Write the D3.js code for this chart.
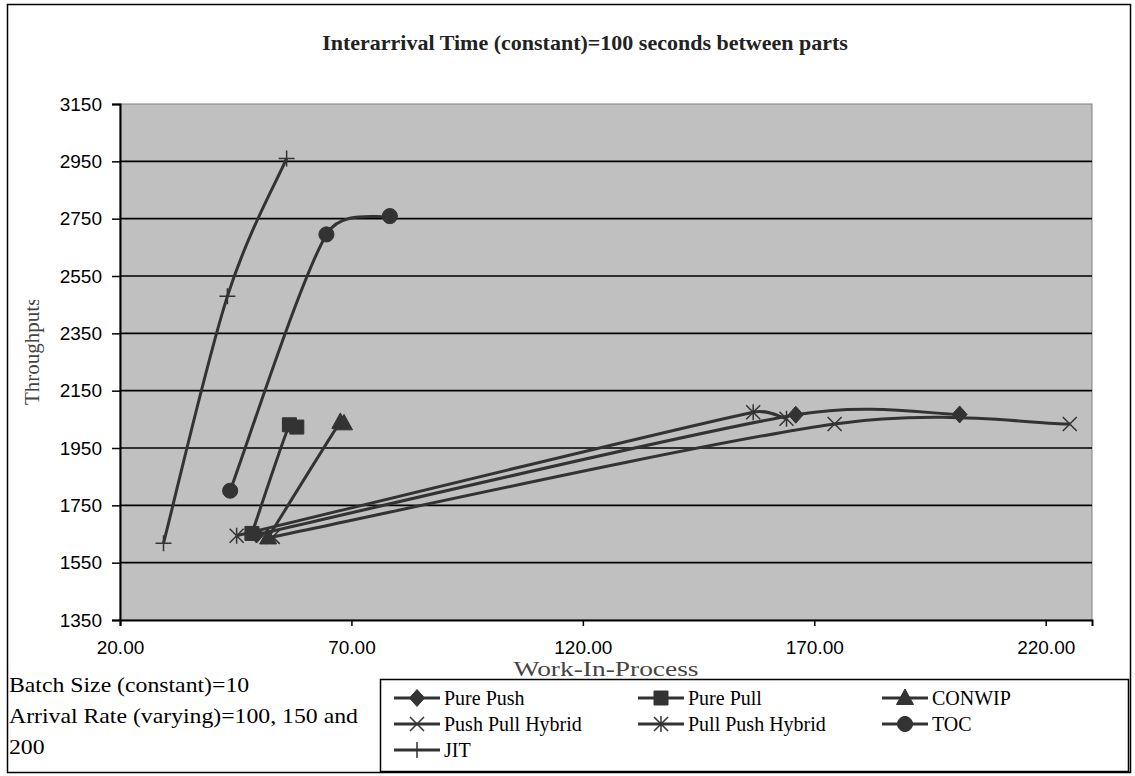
<!DOCTYPE html>
<html>
<head>
<meta charset="utf-8">
<script src="https://cdn.jsdelivr.net/npm/d3@7"></script>
<style>
    body { margin: 0; background: #fff; }
    svg text { font-family: "Liberation Serif", "Times New Roman", serif; }
</style>
</head>
<body>
<div id="chart"></div>
<script>

// chart data (work-in-process vs throughput, three arrival rates per series)
const seriesNames = ["Pure Push", "Pure Pull", "CONWIP", "Push Pull Hybrid", "Pull Push Hybrid", "TOC", "JIT"];
const seriesMarkers = ["diamond", "square", "triangle", "cross", "star", "circle", "plus"];

const purePushWip = [49.5, 166.0, 201.4];
const purePushTp = [1648, 2066, 2067];
const purePullWip = [48.5, 56.6, 58.2];
const purePullTp = [1652, 2031, 2023];
const conwipWip = [52.0, 67.6, 68.4];
const conwipTp = [1638, 2041, 2036];
const pushPullWip = [53.0, 174.4, 225.2];
const pushPullTp = [1640, 2034, 2034];
const pullPushWip = [45.2, 156.8, 164.0];
const pullPushTp = [1644, 2075, 2052];
const tocWip = [43.8, 64.6, 78.3];
const tocTp = [1801, 2695, 2759];
const jitWip = [29.4, 43.2, 56.0];
const jitTp = [1618, 2479, 2960];

const xTicks = [20, 70, 120, 170, 220];
const yTicks = [1350, 1550, 1750, 1950, 2150, 2350, 2550, 2750, 2950, 3150];

const chartTitle = "Interarrival Time (constant)=100 seconds between parts";
const xTitle = "Work-In-Process";
const yTitle = "Throughputs";
const noteLines = ["Batch Size (constant)=10", "Arrival Rate (varying)=100, 150 and", "200"];


class WipChart {

    constructor(parentElement) {
        this.parentElement = parentElement;
        this.series = [
            [purePushWip, purePushTp], [purePullWip, purePullTp], [conwipWip, conwipTp],
            [pushPullWip, pushPullTp], [pullPushWip, pullPushTp], [tocWip, tocTp], [jitWip, jitTp]
        ].map((s, i) => ({
            name: seriesNames[i],
            marker: seriesMarkers[i],
            values: s[0].map((w, j) => ({wip: w, tp: s[1][j]}))
        }));

        this.initVis()
    }

    initVis() {
        let vis = this;

        vis.outerWidth = 1135;
        vis.outerHeight = 776;
        vis.margin = {top: 104, right: 43, bottom: 156, left: 120};
        vis.width = 1092 - vis.margin.left;
        vis.height = 620 - vis.margin.top;
        vis.ink = "#333333";

        vis.svg = d3.select("#" + vis.parentElement).append("svg")
            .attr("width", vis.outerWidth)
            .attr("height", vis.outerHeight);

        // chart border
        vis.svg.append("rect")
            .attr("x", 7.5).attr("y", 4.5)
            .attr("width", 1123).attr("height", 768)
            .attr("fill", "#fff").attr("stroke", "#000").attr("stroke-width", 1.5);

        // title
        vis.svg.append("text")
            .attr("x", 585).attr("y", 50)
            .attr("text-anchor", "middle")
            .style("font-size", "22px").style("font-weight", "bold")
            .attr("fill", "#222")
            .text(chartTitle);

        vis.g = vis.svg.append("g")
            .attr("transform", `translate(${vis.margin.left}, ${vis.margin.top})`);

        // scales
        vis.x = d3.scaleLinear().domain([20, 230]).range([0, vis.width]);
        vis.y = d3.scaleLinear().domain([1350, 3150]).range([vis.height, 0]);

        // plot background
        vis.g.append("rect")
            .attr("width", vis.width).attr("height", vis.height)
            .attr("fill", "#c0c0c0").attr("stroke", "#808080").attr("stroke-width", 1);

        // gridlines
        vis.g.append("g").selectAll("line")
            .data(yTicks.slice(1, -1))
            .enter().append("line")
            .attr("x1", 0).attr("x2", vis.width)
            .attr("y1", d => vis.y(d)).attr("y2", d => vis.y(d))
            .attr("stroke", "#000").attr("stroke-width", 1.6);

        // axes
        vis.yAxis = d3.axisLeft(vis.y).tickValues(yTicks).tickSize(8).tickPadding(10)
            .tickFormat(d3.format("d"));
        vis.xAxis = d3.axisBottom(vis.x).tickValues(xTicks).tickSize(6).tickPadding(15)
            .tickFormat(d3.format(".2f"));

        vis.g.append("g").attr("class", "axis")
            .call(vis.yAxis);
        vis.g.append("g").attr("class", "axis")
            .attr("transform", `translate(0, ${vis.height})`)
            .call(vis.xAxis);

        vis.g.selectAll(".axis .domain").attr("stroke", "#000").attr("stroke-width", 2);
        vis.g.selectAll(".axis .tick line").attr("stroke", "#000").attr("stroke-width", 1.5);
        vis.g.selectAll(".axis text")
            .style("font-family", "'Liberation Sans', Arial, sans-serif")
            .style("font-size", "19px")
            .attr("fill", "#000");

        // y axis title, last letter cut off as in the original
        vis.svg.append("clipPath").attr("id", "ytitle-clip")
            .append("rect").attr("x", 10).attr("y", 300).attr("width", 50).attr("height", 120);
        vis.svg.append("g").attr("clip-path", "url(#ytitle-clip)")
            .append("text")
            .attr("transform", "translate(39, 405) rotate(-90)")
            .attr("text-anchor", "start")
            .style("font-size", "21px")
            .attr("fill", "#444")
            .text(yTitle);

        // note text bottom left
        vis.svg.append("g")
            .attr("transform", "translate(9, 0) scale(1.08, 1)")
            .selectAll("text")
            .data(noteLines)
            .enter().append("text")
            .attr("x", 0)
            .attr("y", (d, i) => 692 + i * 31)
            .style("font-size", "22px")
            .attr("fill", "#000")
            .text(d => d);

        vis.wrangleData()
    }

    markerPath(type) {
        switch (type) {
            case "diamond": return "M0,-8.5L7.5,0L0,8.5L-7.5,0Z";
            case "square": return "M-7,-7H7V7H-7Z";
            case "triangle": return "M0,-9L8.5,6.5H-8.5Z";
            case "circle": return d3.symbol(d3.symbolCircle, 180)();
            case "cross": return "M-7,-7L7,7M-7,7L7,-7";
            case "star": return "M-7,-7L7,7M-7,7L7,-7M0,-8V8";
            case "plus": return "M-8,0H8M0,-8V8";
        }
    }

    drawMarker(sel, type) {
        let vis = this;
        let open = ["cross", "star", "plus"].includes(type);
        sel.append("path")
            .attr("d", vis.markerPath(type))
            .attr("fill", open ? "none" : vis.ink)
            .attr("stroke", vis.ink)
            .attr("stroke-width", open ? 1.5 : 1);
    }

    // smoothed line like the spreadsheet one: catmull-rom tangents, capped by segment length
    smoothPath(values) {
        let vis = this;
        let pts = values.map(d => [vis.x(d.wip), vis.y(d.tp)]);
        let n = pts.length;
        let tan = pts.map((p, i) => {
            let a = pts[Math.max(i - 1, 0)], b = pts[Math.min(i + 1, n - 1)];
            return [(b[0] - a[0]) / 6, (b[1] - a[1]) / 6];
        });
        let cap = (t, len) => {
            let m = Math.hypot(t[0], t[1]);
            return m > len ? [t[0] * len / m, t[1] * len / m] : t;
        };
        let p = d3.path();
        p.moveTo(pts[0][0], pts[0][1]);
        for (let i = 0; i < n - 1; i++) {
            let seg = Math.hypot(pts[i + 1][0] - pts[i][0], pts[i + 1][1] - pts[i][1]) * 0.45;
            let t1 = cap(tan[i], seg), t2 = cap(tan[i + 1], seg);
            p.bezierCurveTo(pts[i][0] + t1[0], pts[i][1] + t1[1],
                pts[i + 1][0] - t2[0], pts[i + 1][1] - t2[1],
                pts[i + 1][0], pts[i + 1][1]);
        }
        return p.toString();
    }

    wrangleData() {
        let vis = this;

        vis.updateVis()
    }

    updateVis() {
        let vis = this;

        let groups = vis.g.selectAll(".series")
            .data(vis.series)
            .enter().append("g")
            .attr("class", "series");

        groups.append("path")
            .attr("d", d => vis.smoothPath(d.values))
            .attr("fill", "none")
            .attr("stroke", vis.ink)
            .attr("stroke-width", 3);

        groups.each(function (s) {
            d3.select(this).selectAll(".pt")
                .data(s.values)
                .enter().append("g")
                .attr("class", "pt")
                .attr("transform", d => `translate(${vis.x(d.wip)}, ${vis.y(d.tp)})`)
                .each(function () { vis.drawMarker(d3.select(this), s.marker); });
        });

        // legend
        let lx = 380, ly = 679;
        vis.svg.append("rect")
            .attr("x", lx + 0.5).attr("y", ly + 0.5)
            .attr("width", 748).attr("height", 92)
            .attr("fill", "#fff").attr("stroke", "#000").attr("stroke-width", 1.5);

        let items = vis.svg.append("g").selectAll(".legend-item")
            .data(vis.series)
            .enter().append("g")
            .attr("class", "legend-item")
            .attr("transform", (d, i) => `translate(${lx + 14 + (i % 3) * 244}, ${ly + 19 + Math.floor(i / 3) * 26})`);

        items.append("line")
            .attr("x1", 0).attr("x2", 46)
            .attr("stroke", vis.ink).attr("stroke-width", 3);
        items.append("g")
            .attr("transform", "translate(23, 0)")
            .each(function (d) { vis.drawMarker(d3.select(this), d.marker); });
        items.append("text")
            .attr("x", 50).attr("y", 7)
            .style("font-size", "20px")
            .attr("fill", "#000")
            .text(d => d.name);

        // x axis title sits on the legend's top edge
        vis.svg.append("text")
            .attr("x", 606).attr("y", 676)
            .attr("text-anchor", "middle")
            .attr("textLength", 185)
            .attr("lengthAdjust", "spacingAndGlyphs")
            .style("font-size", "21px")
            .attr("fill", "#444")
            .text(xTitle);
    }
}

new WipChart("chart");

</script>
</body>
</html>
